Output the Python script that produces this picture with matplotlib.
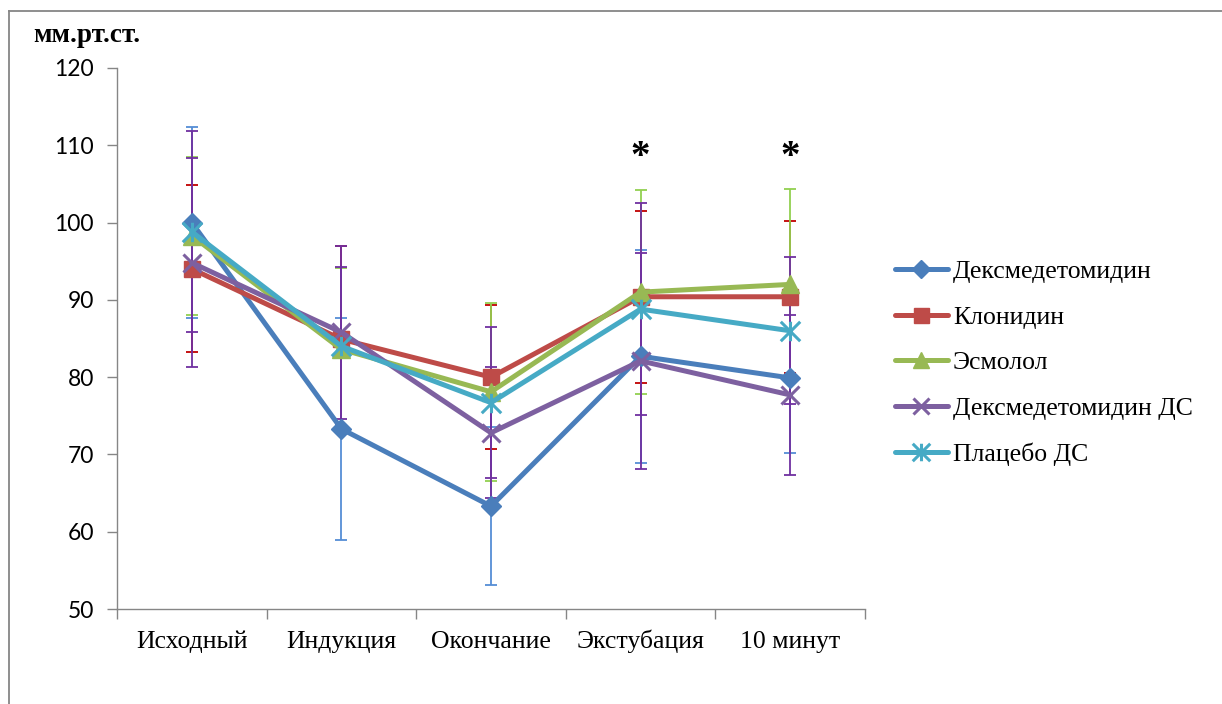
import matplotlib
matplotlib.use("Agg")
import matplotlib.pyplot as plt
from matplotlib.path import Path
from matplotlib.lines import Line2D

# Mean arterial pressure by stage, mean and SD per group
categories = ['Исходный', 'Индукция', 'Окончание', 'Экстубация', '10 минут']
series_names = ['Дексмедетомидин', 'Клонидин', 'Эсмолол',
                'Дексмедетомидин ДС', 'Плацебо ДС']

dex_mean = [100.0, 73.3, 63.3, 82.7, 79.9]
dex_sd = [12.4, 14.4, 10.2, 13.8, 9.7]
clon_mean = [94.0, 84.9, 80.0, 90.4, 90.4]
clon_sd = [10.8, 12.1, 9.3, 11.1, 9.8]
esm_mean = [98.3, 83.6, 78.1, 91.0, 92.0]
esm_sd = [10.2, 10.5, 11.5, 13.2, 12.4]
dexds_mean = [94.8, 85.8, 72.8, 82.1, 77.7]
dexds_sd = [13.5, 11.2, 8.5, 14.0, 10.4]
plac_mean = [98.8, 84.0, 76.7, 88.8, 86.0]
plac_sd = [13.0, 10.2, 9.8, 13.7, 9.5]

significant = [3, 4]          # stages marked with an asterisk
star_level = 109.6

y_ticks = [50, 60, 70, 80, 90, 100, 110, 120]

line_colors = ['#4A7EBB', '#BE4B48', '#98B954', '#7D60A0', '#46AAC5']
err_colors = ['#558ED5', '#C00000', '#92D050', '#7030A0', '#7030A0']

# star marker: an x with a vertical stroke through it
star_path = Path(
    [(-0.5, -0.5), (0.5, 0.5), (-0.5, 0.5), (0.5, -0.5), (0, -0.5), (0, 0.5)],
    [Path.MOVETO, Path.LINETO, Path.MOVETO, Path.LINETO, Path.MOVETO, Path.LINETO])

markers = ['D', 's', '^', 'x', star_path]
msizes = [10.5, 12, 13, 13, 14]

means = [dex_mean, clon_mean, esm_mean, dexds_mean, plac_mean]
sds = [dex_sd, clon_sd, esm_sd, dexds_sd, plac_sd]

W, H = 1222, 704
fig = plt.figure(figsize=(W / 100, H / 100), dpi=100)
ax = fig.add_axes([117 / W, 1 - 609 / H, (865 - 117) / W, (609 - 68) / H])

x = list(range(len(categories)))

# error bars underneath the lines
for m, s, ec in zip(means, sds, err_colors):
    ax.errorbar(x, m, yerr=s, fmt='none', ecolor=ec, elinewidth=1.3,
                capsize=4.5, capthick=1.3, zorder=2)

handles = []
for name, m, c, mk, ms in zip(series_names, means, line_colors, markers, msizes):
    solid = mk not in ('x',) and not isinstance(mk, Path)
    ln, = ax.plot(x, m, color=c, lw=3.6, marker=mk, markersize=ms,
                  markerfacecolor=c, markeredgecolor=c,
                  markeredgewidth=1 if solid else 2.2,
                  solid_joinstyle='round', solid_capstyle='round',
                  zorder=3, label=name)
    handles.append(ln)

# significance marks just above the given y level
for i in significant:
    ax.annotate('*', xy=(i, star_level), xytext=(0, -9),
                textcoords='offset pixels', ha='center', va='center',
                fontsize=28, fontweight='bold', family='Liberation Serif',
                color='black')

ax.set_xlim(-0.5, len(categories) - 0.5)
ax.set_ylim(50, 120)
ax.set_yticks(y_ticks)
ax.set_yticklabels([str(v) for v in y_ticks], family='Lato', fontsize=16.5)

# category labels sit between boundary tick marks
ax.set_xticks([i - 0.5 for i in range(len(categories) + 1)])
ax.set_xticklabels([])
ax.set_xticks(x, minor=True)
ax.set_xticklabels(categories, minor=True, family='Liberation Serif',
                   fontsize=18.5)
for lbl in ax.get_xticklabels(minor=True):
    lbl.set_verticalalignment('baseline')
ax.tick_params(axis='x', which='minor', length=0, pad=28)
ax.tick_params(axis='x', which='major', length=7, width=1, color='#868686',
               direction='out')
ax.tick_params(axis='y', length=7, width=1, color='#868686', direction='out',
               pad=9.5)

for side in ('top', 'right'):
    ax.spines[side].set_visible(False)
for side in ('left', 'bottom'):
    ax.spines[side].set_color('#868686')
    ax.spines[side].set_linewidth(1)

fig.text(33 / W, 1 - 35 / H, 'мм.рт.ст.', family='Liberation Serif',
         fontweight='bold', fontsize=19.5, ha='left', va='center')

fig.legend(handles=handles, loc='center left',
           bbox_to_anchor=(895 / W, 1 - 363 / H), frameon=False,
           prop={'family': 'Liberation Serif', 'size': 18.5},
           handlelength=2.05, handletextpad=0.2, labelspacing=0.88,
           borderpad=0, borderaxespad=0, markerscale=0.9)

# outer chart frame: left and top edges
fx, fy = 8.5 / W, 1 - 11 / H
fig.add_artist(Line2D([fx, fx], [0, fy], transform=fig.transFigure,
                      color='#868686', lw=1.3))
fig.add_artist(Line2D([fx, 1], [fy, fy], transform=fig.transFigure,
                      color='#868686', lw=1.3))

fig.savefig('out.png', dpi=100)
